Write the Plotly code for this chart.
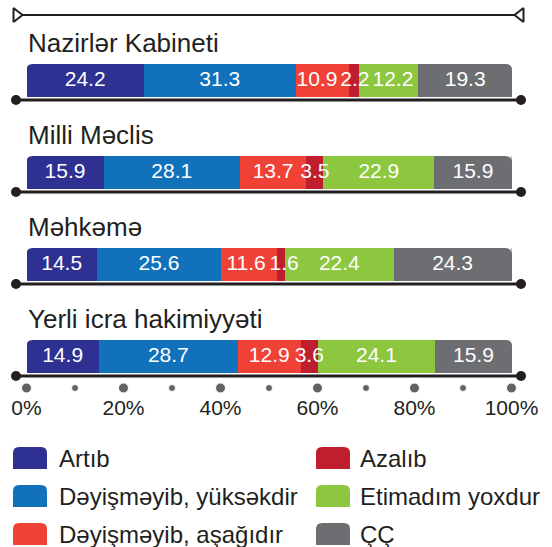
import plotly.graph_objects as go

# ---------------- data ----------------
institutions = ["Nazirlər Kabineti", "Milli Məclis", "Məhkəmə", "Yerli icra hakimiyyəti"]
series_names = ["Artıb", "Dəyişməyib, yüksəkdir", "Dəyişməyib, aşağıdır",
                "Azalıb", "Etimadım yoxdur", "ÇÇ"]
artib = [24.2, 15.9, 14.5, 14.9]
deyismeyib_yuksek = [31.3, 28.1, 25.6, 28.7]
deyismeyib_asagi = [10.9, 13.7, 11.6, 12.9]
azalib = [2.2, 3.5, 1.6, 3.6]
etimadim_yoxdur = [12.2, 22.9, 22.4, 24.1]
cc = [19.3, 15.9, 24.3, 15.9]
tick_values = [0, 10, 20, 30, 40, 50, 60, 70, 80, 90, 100]
tick_label_values = [0, 20, 40, 60, 80, 100]
tick_labels = ["0%", "20%", "40%", "60%", "80%", "100%"]

series_values = [artib, deyismeyib_yuksek, deyismeyib_asagi, azalib, etimadim_yoxdur, cc]
colors = ["#2e3192", "#1172bb", "#ef4136", "#be1e2d", "#8dc63f", "#6d6e71"]

# ---------------- layout constants (pixels) ----------------
W, H = 552, 547
FONT = "Liberation Sans, Arial, Helvetica, sans-serif"
DARK = "#231f20"
X0_PX, PX_PER_PCT = 26.5, 4.85          # pixel of 0 % and pixels per percent
ROW_STEP = 92
BAR_CENTER0 = 80.5
BAR_H = 33
TITLE_Y0 = 43
LINE_Y0 = 100
LABEL_SIZE = 21


def px(p):
    """pixel x -> data x (percent)"""
    return (p - X0_PX) / PX_PER_PCT


def text_w(s, size):
    w = 0.0
    for ch in s:
        w += 0.278 if ch == "." else 0.556
    return w * size / PX_PER_PCT          # in percent units


fig = go.Figure()

bar_centers = [BAR_CENTER0 + ROW_STEP * i for i in range(len(institutions))]

for name, vals, col in zip(series_names, series_values, colors):
    fig.add_trace(go.Bar(
        x=vals, y=bar_centers, orientation="h", width=BAR_H, name=name,
        marker=dict(color=col, line=dict(width=0)),
        hoverinfo="skip", showlegend=False,
    ))

# value labels: centred on each segment, nudged apart where segments are narrow
lab_x, lab_y, lab_t = [], [], []
row_totals = []
for i in range(len(institutions)):
    vals = [s[i] for s in series_values]
    texts = [f"{v:.1f}" for v in vals]
    cum, centers = 0.0, []
    for v in vals:
        centers.append(cum + v / 2)
        cum += v
    row_totals.append(cum)
    half = [text_w(t, LABEL_SIZE) / 2 for t in texts]
    pad = 3 / PX_PER_PCT
    for _ in range(200):
        moved = False
        for j in range(len(centers) - 1):
            need = half[j] + half[j + 1] + pad
            gap = centers[j + 1] - centers[j]
            if gap < need - 1e-6:
                d = (need - gap) / 2
                centers[j] -= d
                centers[j + 1] += d
                moved = True
        if not moved:
            break
    lab_x += centers
    lab_y += [bar_centers[i]] * len(centers)
    lab_t += texts

fig.add_trace(go.Scatter(x=lab_x, y=lab_y, mode="text", text=lab_t,
                         textposition="middle center",
                         textfont=dict(color="white", size=LABEL_SIZE, family=FONT),
                         hoverinfo="skip", showlegend=False, cliponaxis=False))

# top decorative line with open triangles
fig.add_trace(go.Scatter(x=[px(22), px(515)], y=[15, 15], mode="lines",
                         line=dict(color=DARK, width=2.2), hoverinfo="skip",
                         showlegend=False))
fig.add_trace(go.Scatter(x=[px(16.5), px(520.5)], y=[15, 15], mode="markers",
                         marker=dict(symbol=["triangle-right-open", "triangle-left-open"],
                                     size=12, color=DARK, line=dict(width=2, color=DARK)),
                         hoverinfo="skip", showlegend=False))

# baseline under every bar with end dots
lx, ly = [], []
for i in range(len(institutions)):
    y = LINE_Y0 + ROW_STEP * i
    lx += [px(16), px(521), None]
    ly += [y, y, None]
fig.add_trace(go.Scatter(x=lx, y=ly, mode="lines+markers",
                         line=dict(color=DARK, width=3),
                         marker=dict(size=10, color=DARK),
                         hoverinfo="skip", showlegend=False))

# tick dots and labels
fig.add_trace(go.Scatter(
    x=tick_values, y=[388] * len(tick_values), mode="markers",
    marker=dict(size=[10 if v in tick_label_values else 7 for v in tick_values], color=DARK),
    hoverinfo="skip", showlegend=False))
fig.add_trace(go.Scatter(
    x=tick_label_values, y=[410] * len(tick_label_values), mode="text",
    text=tick_labels, textposition="middle center",
    textfont=dict(size=21, color=DARK, family=FONT),
    hoverinfo="skip", showlegend=False, cliponaxis=False))

annotations = []
shapes = []
R = 6
rx = R / PX_PER_PCT

# rounded top corners of each bar (white corner masks)
for i in range(len(institutions)):
    yt = bar_centers[i] - BAR_H / 2
    xl, xr = 0.0, row_totals[i]
    shapes.append(dict(type="path", xref="x", yref="y", fillcolor="white",
                       line=dict(width=0), layer="above",
                       path=f"M{xl},{yt} L{xl + rx},{yt} Q{xl},{yt} {xl},{yt + R} Z"))
    shapes.append(dict(type="path", xref="x", yref="y", fillcolor="white",
                       line=dict(width=0), layer="above",
                       path=f"M{xr},{yt} L{xr - rx},{yt} Q{xr},{yt} {xr},{yt + R} Z"))

# row titles
for i, name in enumerate(institutions):
    annotations.append(dict(x=px(26), y=TITLE_Y0 + ROW_STEP * i, xref="x", yref="y",
                            text=name, showarrow=False, xanchor="left", yanchor="middle",
                            font=dict(size=26, color=DARK, family=FONT)))

# legend (two columns, three rows)
col_swatch_px = [13, 316]
col_label_px = [57, 358]
SW_W, SW_H = 34, 22
for k, (name, col) in enumerate(zip(series_names, colors)):
    c, r = divmod(k, 3)
    yc = 458 + 38 * r
    x0, x1 = px(col_swatch_px[c]), px(col_swatch_px[c] + SW_W)
    y0, y1 = yc - SW_H / 2, yc + SW_H / 2
    path = (f"M{x0},{y1} L{x0},{y0 + R} Q{x0},{y0} {x0 + rx},{y0} "
            f"L{x1 - rx},{y0} Q{x1},{y0} {x1},{y0 + R} L{x1},{y1} Z")
    shapes.append(dict(type="path", path=path, xref="x", yref="y",
                       fillcolor=col, line=dict(width=0), layer="above"))
    annotations.append(dict(x=px(col_label_px[c]), y=yc, xref="x", yref="y",
                            text=name, showarrow=False, xanchor="left", yanchor="middle",
                            font=dict(size=24, color=DARK, family=FONT)))

fig.update_layout(
    width=W, height=H, margin=dict(l=0, r=0, t=0, b=0),
    paper_bgcolor="white", plot_bgcolor="white",
    barmode="stack", bargap=0,
    xaxis=dict(range=[px(0), px(W)], visible=False, fixedrange=True),
    yaxis=dict(range=[H, 0], visible=False, fixedrange=True),
    annotations=annotations, shapes=shapes,
    font=dict(family=FONT, color=DARK),
    showlegend=False,
)

fig.write_html("out.html", config={"displayModeBar": False},
               post_script="document.body.style.margin='0';"
                           "document.body.style.overflow='hidden';")
